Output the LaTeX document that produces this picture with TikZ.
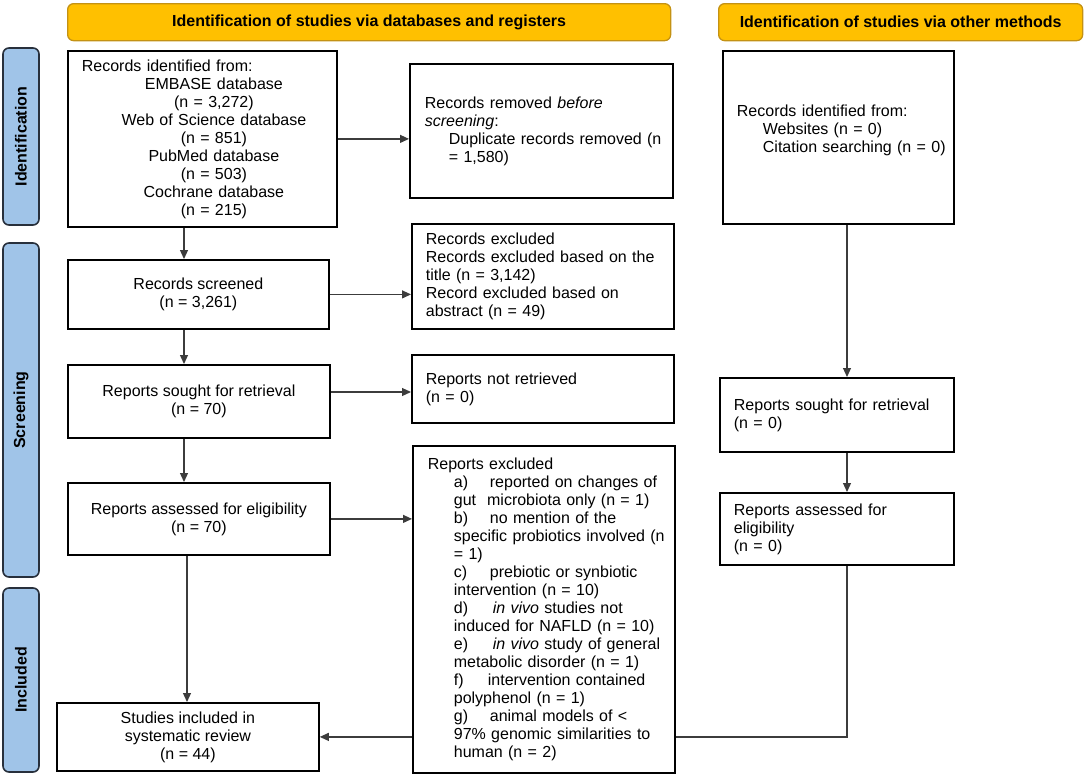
\documentclass[tikz,border=0pt]{standalone}
\usepackage{fontspec}
\setmainfont{Liberation Sans}
\usetikzlibrary{arrows.meta,backgrounds}
\hyphenpenalty=10000
\exhyphenpenalty=10000
\hfuzz=30pt
\hbadness=10000
\definecolor{hdrfill}{RGB}{255,192,0}
\definecolor{hdrdraw}{RGB}{196,146,20}
\definecolor{sidefill}{RGB}{160,196,232}
\definecolor{sidedraw}{RGB}{40,48,60}
\definecolor{linecol}{RGB}{60,60,60}
\tikzset{
  base/.style={font=\fontsize{16}{18}\selectfont, inner ysep=0pt},
  box/.style={base, draw=black, line width=1.8pt, fill=white, anchor=north west},
  hdr/.style={draw=hdrdraw, fill=hdrfill, line width=1.3pt, rounded corners=6pt,
    font=\fontsize{16}{18}\selectfont\bfseries, anchor=north west, inner sep=0pt},
  side/.style={draw=sidedraw, fill=sidefill, line width=1.6pt, rounded corners=6pt,
    font=\fontsize{16}{18}\selectfont\bfseries, rotate=90, inner sep=0pt},
  arr/.style={draw=linecol, line width=1.2pt, -{Triangle[length=9pt,width=8pt]}},
}
\begin{document}
\begin{tikzpicture}[x=1pt, y=-1pt]
\useasboundingbox (0,0) rectangle (1084,774);

% headers
\node[hdr, minimum width=603pt, minimum height=37pt] (h1) at (67,3)
  {Identification of studies via databases and registers};
\node[hdr, minimum width=364pt, minimum height=37pt] (h2) at (718,3)
  {Identification of studies via other methods};

% side bars
\node[side, minimum width=177pt, minimum height=36pt] (s1) at (21,136.5) {Identification};
\node[side, minimum width=334pt, minimum height=36pt] (s2) at (21,410) {Screening};
\node[side, minimum width=184pt, minimum height=36pt] (s3) at (21,680) {Included};

% left column
\node[box, align=center, minimum width=269pt, minimum height=176pt, text width=241pt, inner xsep=14pt] (rid) at (67,50)
  {\makebox[241pt][l]{Records identified from:}\\
   \hspace*{23pt}EMBASE database\\
   \hspace*{23pt}(n = 3,272)\\
   \hspace*{23pt}Web of Science database\\
   \hspace*{23pt}(n = 851)\\
   \hspace*{23pt}PubMed database\\
   \hspace*{23pt}(n = 503)\\
   \hspace*{23pt}Cochrane database\\
   \hspace*{23pt}(n = 215)};

\node[box, align=center, minimum width=261pt, minimum height=69pt] (rscr) at (67,259)
  {Records screened\\(n = 3,261)};
\node[box, align=center, minimum width=262pt, minimum height=73pt] (rsou) at (67,364)
  {Reports sought for retrieval\\(n = 70)};
\node[box, align=center, minimum width=262pt, minimum height=72pt] (rass) at (67,482)
  {Reports assessed for eligibility\\(n = 70)};
\node[box, align=center, minimum width=262pt, minimum height=68pt] (stud) at (56,702)
  {Studies included in\\systematic review\\(n = 44)};

% middle column
\node[box, align=left, minimum width=263pt, minimum height=134pt, text width=233pt, inner xsep=15pt] (rrem) at (409,63)
  {Records removed \textit{before}\\
   \textit{screening}:\\
   \hspace*{24pt}\mbox{Duplicate records removed (n}\\
   \hspace*{24pt}= 1,580)};
\node[box, align=left, minimum width=262pt, minimum height=105pt, text width=234pt, inner xsep=14pt] (rexc) at (411,223)
  {Records excluded\\
   \mbox{Records excluded based on the}\\
   title (n = 3,142)\\
   Record excluded based on\\
   abstract (n = 49)};
\node[box, align=left, minimum width=262pt, minimum height=68pt, text width=234pt, inner xsep=14pt] (rnot) at (411,354)
  {Reports not retrieved\\(n = 0)};
\node[box, align=left, minimum width=262pt, minimum height=327pt, text width=232pt, inner xsep=15pt] (rexcl) at (412,445)
  {Reports excluded\\
   \hspace*{26pt}\makebox[36pt][l]{a)}\mbox{reported on changes of}\\
   \hspace*{26pt}\mbox{gut\hspace{11pt}microbiota only (n = 1)}\\
   \hspace*{26pt}\makebox[36pt][l]{b)}\mbox{no mention of the}\\
   \hspace*{26pt}\mbox{specific probiotics involved (n}\\
   \hspace*{26pt}= 1)\\
   \hspace*{26pt}\makebox[36pt][l]{c)}\mbox{prebiotic or synbiotic}\\
   \hspace*{26pt}\mbox{intervention (n = 10)}\\
   \hspace*{26pt}\makebox[39pt][l]{d)}\mbox{\textit{in vivo} studies not}\\
   \hspace*{26pt}\mbox{induced for NAFLD (n = 10)}\\
   \hspace*{26pt}\makebox[39pt][l]{e)}\mbox{\textit{in vivo} study of general}\\
   \hspace*{26pt}\mbox{metabolic disorder (n = 1)}\\
   \hspace*{26pt}\makebox[34pt][l]{f)}\mbox{intervention contained}\\
   \hspace*{26pt}\mbox{polyphenol (n = 1)}\\
   \hspace*{26pt}\makebox[36pt][l]{g)}\mbox{animal models of <}\\
   \hspace*{26pt}\mbox{97\% genomic similarities to}\\
   \hspace*{26pt}\mbox{human (n = 2)}};

% right column
\node[box, align=left, minimum width=231pt, minimum height=173pt, text width=203pt, inner xsep=14pt] (orid) at (722,50)
  {Records identified from:\\
   \hspace*{26pt}\mbox{Websites (n = 0)}\\
   \hspace*{26pt}\mbox{Citation searching (n = 0)}\\ ~};
\node[box, align=left, minimum width=234pt, minimum height=74pt, text width=206pt, inner xsep=14pt] (osou) at (719,377)
  {Reports sought for retrieval\\(n = 0)};
\node[box, align=left, minimum width=234pt, minimum height=72pt, text width=206pt, inner xsep=14pt] (oass) at (719,492)
  {Reports assessed for\\eligibility\\(n = 0)};

% helper coordinates
\coordinate (xL) at (184,0);
\coordinate (xD) at (187,0);
\coordinate (xR) at (847,0);
\coordinate (yA) at (0,392);

\begin{scope}[on background layer]
\draw[arr] (rid.east) -- (rid.east -| rrem.west);
\draw[arr] (rid.south -| xL) -- (rscr.north -| xL);
\draw[arr] (rscr.east) -- (rscr.east -| rexc.west);
\draw[arr] (rscr.south -| xL) -- (rsou.north -| xL);
\draw[arr] (rsou.east |- yA) -- (rnot.west |- yA);
\draw[arr] (rsou.south -| xL) -- (rass.north -| xL);
\draw[arr] (rass.east) -- (rass.east -| rexcl.west);
\draw[arr] (rass.south -| xD) -- (stud.north -| xD);
\draw[arr] (orid.south -| xR) -- (osou.north -| xR);
\draw[arr] (osou.south -| xR) -- (oass.north -| xR);
\draw[arr] (oass.south -| xR) |- (stud.east);
\end{scope}
\end{tikzpicture}
\end{document}
